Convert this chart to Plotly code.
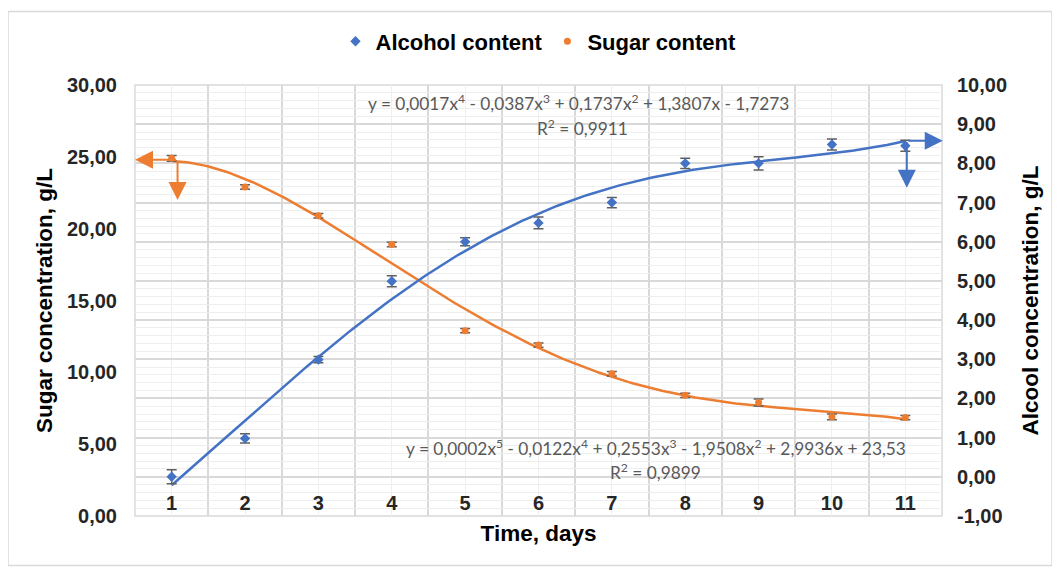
import numpy as np
import plotly.graph_objects as go

days = list(range(1, 12))
sugar = [24.9, 22.9, 20.9, 18.9, 12.9, 11.9, 9.9, 8.4, 7.9, 6.9, 6.85]
sugar_err = [0.2, 0.15, 0.15, 0.15, 0.15, 0.15, 0.15, 0.15, 0.25, 0.2, 0.15]
alcohol = [0.0, 0.98, 2.99, 4.99, 6.0, 6.48, 7.0, 8.0, 8.0, 8.48, 8.45]
alcohol_err = [0.18, 0.12, 0.08, 0.14, 0.1, 0.15, 0.13, 0.13, 0.17, 0.14, 0.14]

sugar_ticks = [0, 5, 10, 15, 20, 25, 30]
sugar_ticktext = ['0,00', '5,00', '10,00', '15,00', '20,00', '25,00', '30,00']
alcohol_ticks = list(range(-1, 11))
alcohol_ticktext = ['-1,00', '0,00', '1,00', '2,00', '3,00', '4,00', '5,00',
                    '6,00', '7,00', '8,00', '9,00', '10,00']

alcohol_eq = ('y = 0,0017x<sup>4</sup> - 0,0387x<sup>3</sup> + 0,1737x<sup>2</sup>'
              ' + 1,3807x - 1,7273')
alcohol_r2 = 'R<sup>2</sup> = 0,9911'
sugar_eq = ('y = 0,0002x<sup>5</sup> - 0,0122x<sup>4</sup> + 0,2553x<sup>3</sup>'
            ' - 1,9508x<sup>2</sup> + 2,9936x + 23,53')
sugar_r2 = 'R<sup>2</sup> = 0,9899'

BLUE = '#4472C4'
ORANGE = '#ED7D31'
GREY = '#595959'

# polynomial trendlines, same orders as the Excel ones
xs = np.linspace(1, 11, 200)
alc_fit = np.polyval(np.polyfit(days, alcohol, 4), xs)
sug_fit = np.polyval(np.polyfit(days, sugar, 5), xs)

fig = go.Figure()
fig.add_trace(go.Scatter(x=xs, y=sug_fit, mode='lines', yaxis='y',
                         line=dict(color=ORANGE, width=2.5), showlegend=False, hoverinfo='skip'))
fig.add_trace(go.Scatter(x=xs, y=alc_fit, mode='lines', yaxis='y2',
                         line=dict(color=BLUE, width=2.5), showlegend=False, hoverinfo='skip'))
fig.add_trace(go.Scatter(x=days, y=alcohol, mode='markers', name='Alcohol content', yaxis='y2',
                         marker=dict(color=BLUE, symbol='diamond', size=8),
                         error_y=dict(type='data', array=alcohol_err, color='#5f5f5f', thickness=1.5, width=5)))
fig.add_trace(go.Scatter(x=days, y=sugar, mode='markers', name='Sugar content', yaxis='y',
                         marker=dict(color=ORANGE, symbol='circle', size=7),
                         error_y=dict(type='data', array=sugar_err, color='#5f5f5f', thickness=1.5, width=5)))

# arrows on the first sugar point and the last alcohol point
arrows = [
    dict(x=0.5, y=24.8, ax=1.08, ay=24.8, xref='x', yref='y', axref='x', ayref='y', arrowcolor=ORANGE),
    dict(x=1.08, y=22.0, ax=1.08, ay=24.8, xref='x', yref='y', axref='x', ayref='y', arrowcolor=ORANGE),
    dict(x=11.51, y=8.58, ax=11.02, ay=8.58, xref='x', yref='y2', axref='x', ayref='y2', arrowcolor=BLUE),
    dict(x=11.02, y=7.38, ax=11.02, ay=8.58, xref='x', yref='y2', axref='x', ayref='y2', arrowcolor=BLUE),
]
for a in arrows:
    fig.add_annotation(text='', showarrow=True, arrowhead=2, arrowsize=1.8, arrowwidth=2, standoff=0, **a)

eq_font = dict(family='Lato, Carlito, sans-serif', size=17.3, color=GREY)
for txt, x, y in [(alcohol_eq, 0.549, 0.9585), (alcohol_r2, 0.554, 0.901),
                  (sugar_eq, 0.6456, 0.159), (sugar_r2, 0.6456, 0.1037)]:
    fig.add_annotation(text=txt, x=x, y=y, xref='paper', yref='paper', showarrow=False,
                       xanchor='center', yanchor='middle', font=eq_font)

# plot area border and light frame around the whole chart
fig.add_shape(type='rect', xref='paper', yref='paper', x0=0, x1=1, y0=0, y1=1,
              line=dict(color='#d9d9d9', width=1.5), layer='between')
fig.add_shape(type='rect', xref='paper', yref='paper', x0=-0.1574, x1=1.1363, y0=-0.115, y1=1.1705,
              line=dict(color='#d9d9d9', width=1.5), layer='below')

tick_font = dict(family='Liberation Sans, Arial', size=20, color='#262626', weight='bold')
title_font = dict(family='Liberation Sans, Arial', size=22.5, color='#000000', weight='bold')

fig.update_layout(
    width=1060, height=570,
    margin=dict(l=127, r=126, t=74, b=62),
    paper_bgcolor='white', plot_bgcolor='white',
    font=dict(family='Liberation Sans, Arial'),
    legend=dict(orientation='h', x=0.5, xanchor='center', y=1.101, yanchor='middle',
                font=dict(family='Liberation Sans, Arial', size=22, color='#000000', weight='bold'),
                itemwidth=30, bgcolor='rgba(0,0,0,0)'),
    xaxis=dict(range=[0.5, 11.5], tickmode='array', tickvals=days, ticktext=[str(d) for d in days],
               anchor='free', position=1 / 11, automargin=False,
               showgrid=True, gridcolor='#efefef', gridwidth=1, zeroline=False,
               minor=dict(tickmode='array', tickvals=[d + 0.5 for d in days[:-1]],
                          showgrid=True, gridcolor='#d9d9d9', gridwidth=1.5),
               showline=False, ticks='', ticklabelstandoff=12, tickfont=tick_font,
               title=dict(text='Time, days', font=title_font, standoff=12)),
    yaxis=dict(range=[0, 30], tickmode='array', tickvals=sugar_ticks, ticktext=sugar_ticktext,
               automargin=False, showgrid=False, zeroline=False, ticks='', ticklabelstandoff=17,
               tickfont=tick_font, showline=False,
               title=dict(text='Sugar concentration, g/L', font=title_font, standoff=8)),
    yaxis2=dict(range=[-1, 10], overlaying='y', side='right', tickmode='array',
                tickvals=alcohol_ticks, ticktext=alcohol_ticktext, automargin=False,
                showgrid=True, gridcolor='#d9d9d9', gridwidth=1.5, zeroline=False,
                minor=dict(tickmode='linear', tick0=-1, dtick=0.2, showgrid=True,
                           gridcolor='#eeeeee', gridwidth=1),
                ticks='', ticklabelstandoff=14, tickfont=tick_font, showline=False,
                title=dict(text='Alcool concentration, g/L', font=title_font, standoff=16)),
)

fig.write_html('out.html')
